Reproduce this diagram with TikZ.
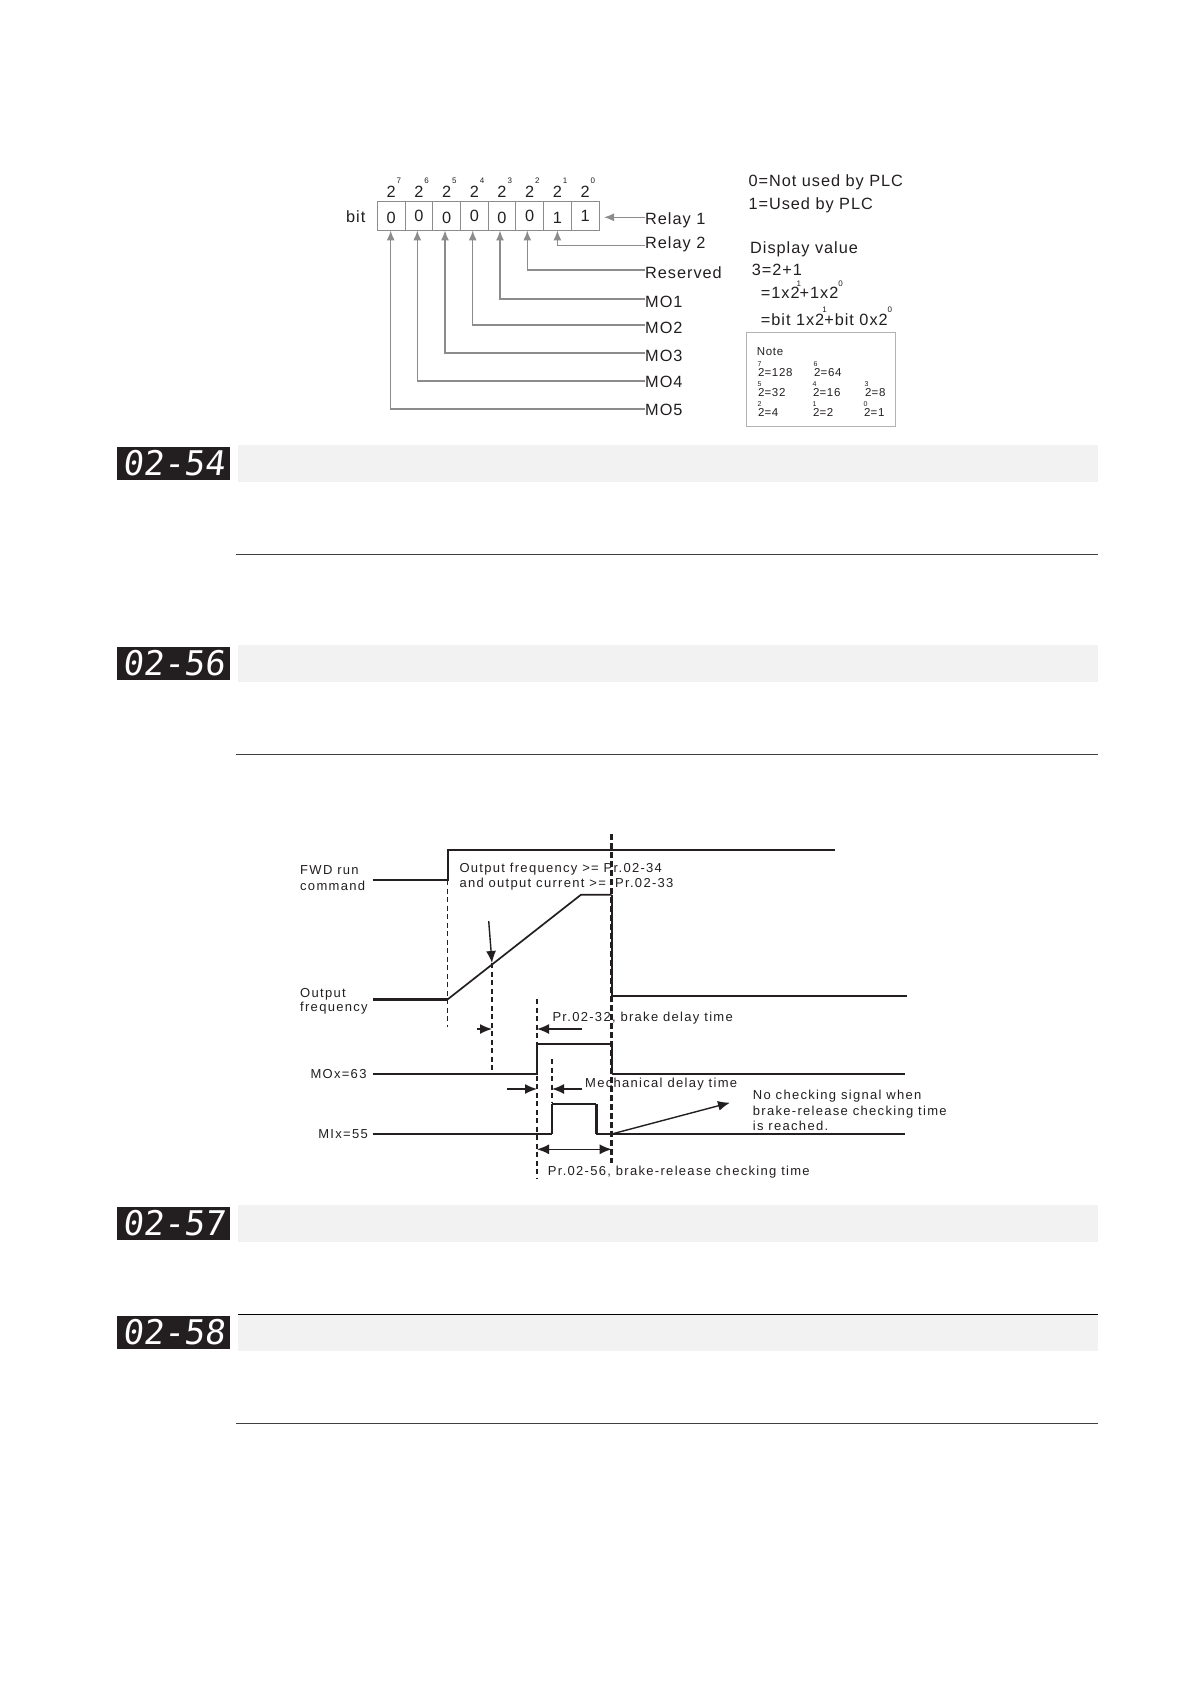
\documentclass[tikz,border=0pt]{standalone}
\usepackage{fontspec}
\setmainfont{Liberation Sans}
\newfontfamily\topfont[LetterSpace=6]{Liberation Sans}
\newfontfamily\lowfont[LetterSpace=10]{Liberation Sans}
\newfontfamily\ledfont[FakeSlant=0.12]{DejaVu Sans Mono}
\usepackage{xcolor}
\usetikzlibrary{arrows.meta}
\definecolor{ink}{HTML}{231F20}
\definecolor{linegray}{HTML}{8C8C8C}
\newcommand{\ex}[3]{\rlap{\kern#1\raisebox{#2}{\fontsize{8}{8}\selectfont #3}}}
\newcommand{\nt}[1]{\rlap{\kern-7pt\raisebox{9.5pt}{\fontsize{7}{7}\selectfont #1}}}
\tikzset{
  cellbox/.style={draw=linegray, line width=0.9pt, minimum width=27.7pt, minimum height=29pt, inner sep=0pt},
  txt/.style={inner sep=0pt, text=ink, text depth=0pt},
  uplab/.style={txt, text height=11.7pt, anchor=west, font=\topfont\fontsize{16.3}{16}\selectfont},
  notelab/.style={txt, text height=8.3pt, anchor=west, font=\topfont\fontsize{11.5}{12}\selectfont},
  lowlab/.style={txt, text height=9.4pt, anchor=west, font=\lowfont\fontsize{13}{13}\selectfont},
  lowright/.style={lowlab, anchor=east},
  grayarrow/.style={draw=linegray, line width=1.3pt, -{Latex[length=10pt,width=8pt]}},
  sig/.style={line width=1.7pt, ink},
  sigthick/.style={line width=2.4pt, ink},
  dash1/.style={line width=1.5pt, ink, dash pattern=on 5pt off 3.5pt},
  dash2/.style={line width=2.8pt, ink, dash pattern=on 6pt off 3pt},
  blackarrow/.style={line width=1.4pt, ink, -{Latex[length=12pt,width=10pt]}},
  ledbox/.style={fill=ink, text=white, minimum width=113pt, minimum height=33pt, inner sep=0pt, font=\ledfont\fontsize{34}{34}\selectfont},
  strip/.style={fill=black!5, minimum width=860pt, minimum height=37pt, inner sep=0pt},
}
\begin{document}
\begin{tikzpicture}[x=1pt,y=-1pt]
  \useasboundingbox (0,0) rectangle (1190,1684);
  \fill[white] (0,0) rectangle (1190,1684);
  % bit table
  \foreach \b/\v/\y [count=\i from 0] in {7/0/218,6/0/215.5,5/0/218,4/0/215.5,3/0/218,2/0/215.5,1/1/218,0/1/215.5}{
    \node[cellbox] (c\b) at ({391.2+27.7*\i},215.5) {};
    \node[uplab, anchor=center] (v\b) at ({391.2+27.7*\i},\y) {\v};
    \node[uplab, anchor=center] (p\b) at ({391.2+27.7*\i},191.7) {2\ex{1pt}{14.5pt}{\b}};
  }
  \node[uplab, anchor=center] (bit) at (355.7,217) {bit};
  \node[uplab] (relay1) at (645,219) {Relay 1};
  \node[uplab] (relay2) at (645,243) {Relay 2};
  \node[uplab] (reserved) at (645,272.5) {Reserved};
  \node[uplab] (mo1) at (645,301.5) {MO1};
  \node[uplab] (mo2) at (645,327.5) {MO2};
  \node[uplab] (mo3) at (645,355.5) {MO3};
  \node[uplab] (mo4) at (645,381.5) {MO4};
  \node[uplab] (mo5) at (645,409.5) {MO5};
  \coordinate (r1end) at (645,217.3);
  \coordinate (r1tip) at (604,217.3);
  \coordinate (r2end) at (645,245.7);
  \coordinate (resend) at (645,270);
  \coordinate (m1end) at (645,299);
  \coordinate (m2end) at (645,325);
  \coordinate (m3end) at (645,353);
  \coordinate (m4end) at (645,381);
  \coordinate (m5end) at (645,409);
  \draw[grayarrow] (r1end) -- (r1tip);
  \draw[grayarrow] (r2end) -| (c1.south);
  \draw[grayarrow] (resend) -| ([xshift=-2.4pt]c2.south);
  \draw[grayarrow] (m1end) -| ([xshift=-2pt]c3.south);
  \draw[grayarrow] (m2end) -| ([xshift=-1.6pt]c4.south);
  \draw[grayarrow] (m3end) -| ([xshift=-1.6pt]c5.south);
  \draw[grayarrow] (m4end) -| ([xshift=-1.6pt]c6.south);
  \draw[grayarrow] (m5end) -| ([xshift=-0.5pt]c7.south);
  % side notes
  \node[uplab] (used0) at (748.3,181) {0=Not used by PLC};
  \node[uplab] (used1) at (748.3,204) {1=Used by PLC};
  \node[uplab] (disp) at (750,247.7) {Display value};
  \node[uplab] (eq1) at (751.7,270) {3=2+1};
  \node[uplab] (eq2) at (760.7,293) {=1x2\ex{-3pt}{12pt}{1}+1x2\ex{0pt}{12pt}{0}};
  \node[uplab] (eq3) at (760.7,319.3) {=bit 1x2\ex{-2pt}{13pt}{1}+bit 0x2\ex{0pt}{13pt}{0}};
  \node[draw=black!30, line width=1pt, minimum width=149pt, minimum height=94pt, inner sep=0pt] (notebox) at (821.2,379.7) {};
  \node[notelab] (note) at (756.7,351.7) {Note};
  \node[notelab] (n7) at (758,372) {2\nt{7}=128};
  \node[notelab] (n6) at (814,372) {2\nt{6}=64};
  \node[notelab] (n5) at (758,392) {2\nt{5}=32};
  \node[notelab] (n4) at (813,392) {2\nt{4}=16};
  \node[notelab] (n3) at (865,392) {2\nt{3}=8};
  \node[notelab] (n2) at (758,412) {2\nt{2}=4};
  \node[notelab] (n1) at (813,412) {2\nt{1}=2};
  \node[notelab] (n0) at (864,412) {2\nt{0}=1};
  % parameter bars
  \foreach \n/\y in {54/463.5,56/663.5,57/1223.5,58/1332.5}{
    \node[strip] (s\n) at (668,\y) {};
    \node[ledbox] (led\n) at (173.5,\y) {02-\n};
  }
  \draw[line width=0.8pt, black!75] (236,554.3) -- (1098,554.3);
  \draw[line width=0.8pt, black!75] (236,754) -- (1098,754);
  \draw[line width=0.9pt, black] (238,1314.3) -- (1098,1314.3);
  \draw[line width=0.8pt, black!75] (236,1423) -- (1098,1423);
  % timing diagram
  \draw[sig] (372.7,880) -- (447.7,880) -- (447.7,850) -- (834.5,850);
  \draw[dash1] (447.7,880) -- (447.7,1027);
  \draw[sigthick] (372.7,999.3) -- (447.7,999.3);
  \draw[sig] (447.7,999.3) -- (581,894.7) -- (611.7,894.7);
  \draw[sigthick] (611.7,894.7) -- (611.7,995.7);
  \draw[sig] (611.7,995.7) -- (906.7,995.7);
  \draw[dash1] (492,963) -- (492,1074);
  \draw[dash1] (537,999) -- (537,1178);
  \draw[dash1] (552,1059) -- (552,1103);
  \draw[sig] (372.7,1074) -- (537,1074) -- (537,1044) -- (611.7,1044);
  \draw[sigthick] (611.7,1044) -- (611.7,1074);
  \draw[sig] (611.7,1074) -- (905,1074);
  \draw[sig] (372.7,1134) -- (552,1134);
  \draw[sigthick] (552,1134) -- (552,1104);
  \draw[sig] (552,1104) -- (596.3,1104);
  \draw[sigthick] (596.3,1104) -- (596.3,1134);
  \draw[sig] (596.3,1134) -- (905,1134);
  \draw[dash2] (611.7,834) -- (611.7,1163);
  % arrows
  \coordinate (rampa) at (488.7,921);
  \coordinate (rampb) at (492,963);
  \coordinate (d1a) at (477.3,1029);
  \coordinate (d1b) at (492,1029);
  \coordinate (d2a) at (581.7,1029);
  \coordinate (d2b) at (537,1029);
  \coordinate (m1a) at (507,1089);
  \coordinate (m1b) at (537,1089);
  \coordinate (m2a) at (581.7,1089);
  \coordinate (m2b) at (552,1089);
  \coordinate (nca) at (611.7,1134);
  \coordinate (ncb) at (730,1102.7);
  \coordinate (cka) at (537,1149.3);
  \coordinate (ckb) at (611.7,1149.3);
  \draw[blackarrow] (rampa) -- (rampb);
  \draw[blackarrow] (d1a) -- (d1b);
  \draw[blackarrow] (d2a) -- (d2b);
  \draw[blackarrow] (m1a) -- (m1b);
  \draw[blackarrow] (m2a) -- (m2b);
  \draw[blackarrow] (nca) -- (ncb);
  \draw[blackarrow, {Latex[length=12pt,width=10pt]}-{Latex[length=12pt,width=10pt]}] (cka) -- (ckb);
  % timing labels
  \node[lowlab] (fwd1) at (300,870) {FWD run};
  \node[lowlab] (fwd2) at (300,885.7) {command};
  \node[lowlab] (out1) at (300,992.3) {Output};
  \node[lowlab] (out2) at (300,1007) {frequency};
  \node[lowright] (mox) at (366.7,1074) {MOx=63};
  \node[lowright] (mix) at (368,1134) {MIx=55};
  \node[lowlab] (cond1) at (459.3,867.3) {Output frequency >= Pr.02-34};
  \node[lowlab] (cond2) at (459.3,882.7) {and output current >=};
  \node[lowlab] (cond3) at (615,882.7) {Pr.02-33};
  \node[lowlab] (brake) at (552.3,1016.7) {Pr.02-32, brake delay time};
  \node[lowlab] (mech) at (585,1082.7) {Mechanical delay time};
  \node[lowlab] (check) at (547.7,1170.7) {Pr.02-56, brake-release checking time};
  \node[lowlab] (nc1) at (752.7,1094.3) {No checking signal when};
  \node[lowlab] (nc2) at (752.7,1110.3) {brake-release checking time};
  \node[lowlab] (nc3) at (752.7,1126) {is reached.};
\end{tikzpicture}
\end{document}
